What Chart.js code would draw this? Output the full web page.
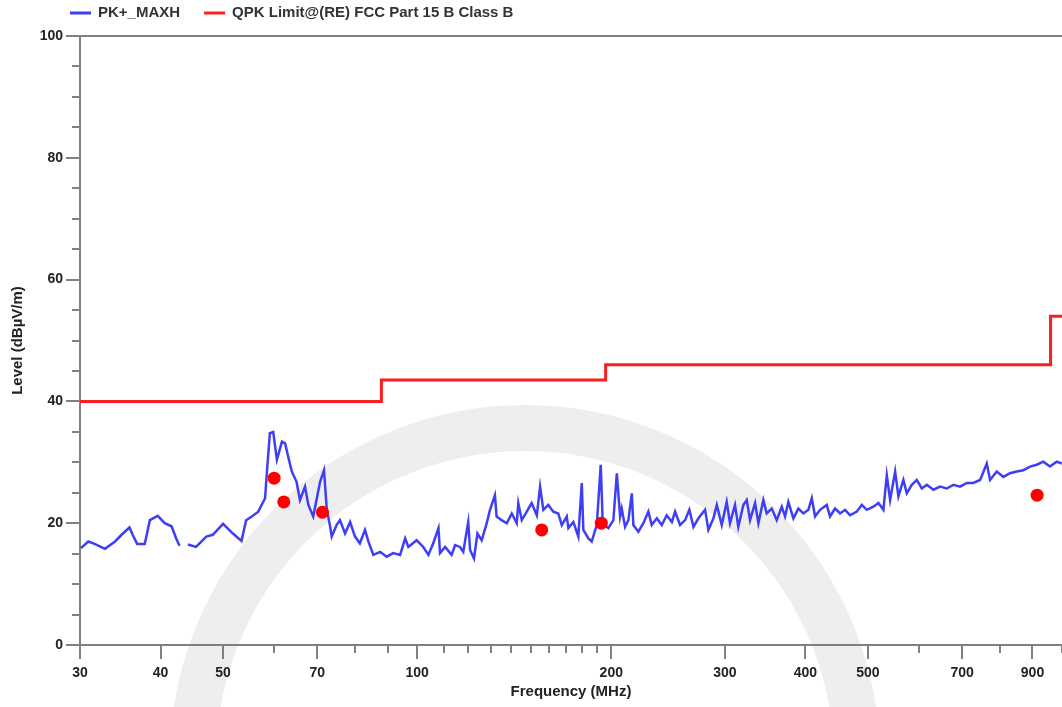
<!DOCTYPE html>
<html><head><meta charset="utf-8">
<script src="https://cdn.jsdelivr.net/npm/chart.js@4.4.1/dist/chart.umd.min.js"></script>
<style>html,body{margin:0;padding:0;background:#fff;overflow:hidden}canvas{display:block}</style>
</head><body>
<canvas id="c" width="1062" height="707"></canvas>
<script>
// ---- data ----
const seriesNames = ['PK+_MAXH', 'QPK Limit@(RE) FCC Part 15 B Class B'];

const peakFreq = [30.1,30.9,31.6,32.8,34.0,34.8,35.8,36.2,36.8,37.8,38.5,39.6,40.6,41.6,42.3,42.8,43.4,44.1,45.4,47.1,48.2,50.0,51.8,53.4,54.3,
55.4,56.7,58.1,58.4,59.1,59.8,60.6,61.7,62.4,63.1,63.9,65.0,65.8,67.0,67.8,69.0,70.7,71.7,72.4,73.3,73.7,75.0,75.9,77.3,78.7,80.1,81.5,83.0,84.0,85.5,87.6,89.7,91.8,94.1,95.8,96.9,
99.8,102.2,104.1,105.9,107.9,108.5,110.5,113.1,114.5,116.5,117.9,120.0,120.8,122.5,124.0,125.9,128.2,129.7,132.0,132.8,135.2,137.7,140.2,142.7,143.5,145.3,147.9,150.5,153.3,155.1,156.9,159.7,162.6,165.5,167.6,170.6,
171.6,174.7,177.8,180.0,181.0,184.3,186.5,189.9,192.6,194.0,197.9,201.5,204.0,206.4,207.6,210.1,212.6,215.2,216.4,220.3,224.3,228.3,231.1,235.3,239.5,243.8,248.3,251.2,255.7,260.3,264.3,268.2,273.0,279.6,282.9,288.0,291.5,296.7,
302.0,305.6,311.1,314.8,320.5,324.4,328.3,334.2,338.2,344.2,348.4,354.7,361.1,367.6,372.0,376.4,383.2,390.1,397.1,404.3,409.2,414.1,421.5,431.7,436.8,444.7,452.8,460.9,469.2,480.6,489.2,498.1,509.9,519.2,528.5,
534.9,541.3,551.1,557.6,567.6,574.5,584.9,595.4,606.2,617.1,631.9,647.0,662.7,678.6,695.0,711.8,728.7,746.4,764.4,773.5,792.2,811.0,830.7,850.8,871.0,892.1,913.7,935.4,958.0,981.2,999.0];

const peakLevel = [15.9,17.0,16.6,15.8,17.0,18.1,19.3,18.1,16.6,16.6,20.5,21.2,20.0,19.5,17.5,16.3,null,16.5,16.1,17.8,18.1,19.9,18.3,17.1,20.5,
21.1,21.9,24.1,27.6,34.8,35.0,30.4,33.4,33.1,30.9,28.5,26.8,23.8,26.0,23.0,21.1,26.8,28.7,22.4,19.4,17.8,19.7,20.5,18.3,20.2,17.8,16.7,18.9,17.0,14.8,15.3,14.5,15.1,14.8,17.5,16.1,
17.2,16.1,14.8,16.7,19.2,15.1,16.1,14.8,16.4,16.1,15.3,20.2,15.6,14.2,18.3,17.2,20.0,22.2,24.6,21.1,20.5,20.0,21.6,20.0,23.3,20.5,21.9,23.3,21.3,26.0,22.2,23.0,21.9,21.6,19.7,21.1,
19.2,20.2,17.8,26.6,18.9,17.5,17.0,19.7,29.6,20.0,19.2,20.5,28.2,21.1,22.4,19.4,20.5,24.9,19.7,18.6,20.0,21.9,19.7,20.8,19.7,21.3,20.2,21.9,19.7,20.5,22.2,19.4,20.8,22.2,18.9,20.8,23.0,19.7,
23.5,20.0,23.0,19.4,23.0,23.8,20.5,23.3,20.0,23.8,21.6,22.4,20.5,22.7,21.1,23.5,20.8,22.4,21.6,22.2,24.1,21.1,22.2,23.0,21.1,22.4,21.6,22.2,21.3,21.9,23.0,22.2,22.7,23.3,22.2,
27.9,23.8,28.5,24.4,27.1,24.9,26.3,27.1,25.7,26.3,25.5,26.0,25.7,26.3,26.0,26.6,26.6,27.1,29.8,27.1,28.5,27.6,28.2,28.5,28.7,29.3,29.6,30.1,29.3,30.1,29.8];

const limitFreq  = [30, 88, 196, 960, 1000];
const limitLevel = [40, 43.5, 46, 54, 54];

const markerFreq  = [60.0, 62.1, 71.3, 156, 193, 915];
const markerLevel = [27.4, 23.5, 21.8, 18.9, 20.0, 24.6];

const xTickValues = [30,40,50,60,70,80,90,100,110,120,130,140,150,160,170,180,190,200,300,400,500,600,700,800,900,1000];
const xTickLabels = [30,40,50,70,100,200,300,400,500,700,900];
const yTickValues = [0,5,10,15,20,25,30,35,40,45,50,55,60,65,70,75,80,85,90,95,100];
const yTickLabels = [0,20,40,60,80,100];

// ---- styling ----
const FONT = '"Liberation Sans", Arial, sans-serif';
const AXIS = '#808080';
const BLUE = 'rgb(62,62,246)';
const RED = 'rgb(250,30,30)';

Chart.defaults.font.family = FONT;
Chart.defaults.font.size = 14;
Chart.defaults.font.weight = 'bold';
Chart.defaults.color = '#222';

const watermark = {
  id: 'watermark',
  beforeDraw(chart) {
    const ctx = chart.ctx;
    ctx.save();
    ctx.strokeStyle = '#eeeeee';
    ctx.lineWidth = 46;
    ctx.beginPath();
    ctx.arc(525, 760, 332, 0, Math.PI * 2);
    ctx.stroke();
    ctx.restore();
  }
};

const frame = {
  id: 'frame',
  beforeDatasetsDraw(chart) {
    const {ctx, chartArea, scales} = chart;
    ctx.save();
    ctx.strokeStyle = AXIS;
    ctx.lineWidth = 2;
    ctx.beginPath();
    ctx.moveTo(chartArea.left, chartArea.top);
    ctx.lineTo(chartArea.right, chartArea.top);
    xTickValues.forEach(v => {
      const px = Math.round(scales.x.getPixelForValue(v));
      const len = xTickLabels.includes(v) ? 14 : 8;
      ctx.moveTo(px, chartArea.bottom);
      ctx.lineTo(px, chartArea.bottom + len);
    });
    yTickValues.forEach(v => {
      const py = Math.round(scales.y.getPixelForValue(v));
      const len = yTickLabels.includes(v) ? 14 : 8;
      ctx.moveTo(chartArea.left, py);
      ctx.lineTo(chartArea.left - len, py);
    });
    ctx.stroke();
    ctx.restore();
  }
};

const topLegend = {
  id: 'topLegend',
  afterDraw(chart) {
    const ctx = chart.ctx;
    ctx.save();
    ctx.font = 'bold 15px ' + FONT;
    ctx.textBaseline = 'middle';
    ctx.textAlign = 'left';
    let x = 70;
    const y = 13;
    [0, 1].forEach(i => {
      const ds = chart.data.datasets[i];
      ctx.strokeStyle = ds.borderColor;
      ctx.lineWidth = 3;
      ctx.beginPath();
      ctx.moveTo(x, y);
      ctx.lineTo(x + 21, y);
      ctx.stroke();
      ctx.fillStyle = '#333';
      ctx.fillText(ds.label, x + 28, y);
      x += 28 + ctx.measureText(ds.label).width + 24;
    });
    ctx.restore();
  }
};

new Chart(document.getElementById('c'), {
  type: 'line',
  data: {
    datasets: [
      {
        label: seriesNames[0],
        data: peakFreq.map((f, i) => ({x: f, y: peakLevel[i]})),
        borderColor: BLUE, backgroundColor: BLUE,
        borderWidth: 2.5, pointRadius: 0, tension: 0, spanGaps: false, order: 2
      },
      {
        label: seriesNames[1],
        data: limitFreq.map((f, i) => ({x: f, y: limitLevel[i]})),
        borderColor: RED, backgroundColor: RED,
        borderWidth: 3, pointRadius: 0, stepped: 'before', order: 3
      },
      {
        label: 'markers',
        data: markerFreq.map((f, i) => ({x: f, y: markerLevel[i]})),
        showLine: false, pointRadius: 6.5, pointHoverRadius: 6.5,
        pointBackgroundColor: 'rgb(255,0,0)', pointBorderWidth: 0,
        borderColor: 'rgb(255,0,0)', backgroundColor: 'rgb(255,0,0)', order: 1
      }
    ]
  },
  options: {
    responsive: false,
    animation: false,
    devicePixelRatio: 1,
    layout: {autoPadding: false, padding: {top: 36, left: 0, right: 0, bottom: 0}},
    plugins: {legend: {display: false}, tooltip: {enabled: false}},
    scales: {
      x: {
        type: 'logarithmic', min: 30, max: 1000,
        afterBuildTicks: s => { s.ticks = xTickValues.map(v => ({value: v})); },
        afterFit: s => { s.height = 62; s.paddingRight = 0; s.paddingLeft = 0; },
        ticks: {
          autoSkip: false, maxRotation: 0, minRotation: 0, padding: 10,
          font: {size: 14, weight: 'bold'}, color: '#222',
          callback: v => xTickLabels.includes(v) ? String(v) : ''
        },
        grid: {drawOnChartArea: false, drawTicks: true, tickLength: 10, tickColor: 'rgba(0,0,0,0)'},
        border: {display: true, color: AXIS, width: 2},
        title: {display: true, text: 'Frequency (MHz)', font: {size: 15, weight: 'bold'}, color: '#222', padding: {top: 0, bottom: 6}}
      },
      y: {
        type: 'linear', min: 0, max: 100,
        afterBuildTicks: s => { s.ticks = yTickValues.map(v => ({value: v})); },
        afterFit: s => { s.width = 80; },
        ticks: {
          padding: 3,
          font: {size: 14, weight: 'bold'}, color: '#222',
          callback: v => yTickLabels.includes(v) ? String(v) : ''
        },
        grid: {drawOnChartArea: false, drawTicks: true, tickLength: 14, tickColor: 'rgba(0,0,0,0)'},
        border: {display: true, color: AXIS, width: 2},
        title: {display: true, text: 'Level (dBµV/m)', font: {size: 15, weight: 'bold'}, color: '#222', padding: {top: 9, bottom: 0}}
      }
    }
  },
  plugins: [watermark, frame, topLegend]
});
</script>
</body></html>
